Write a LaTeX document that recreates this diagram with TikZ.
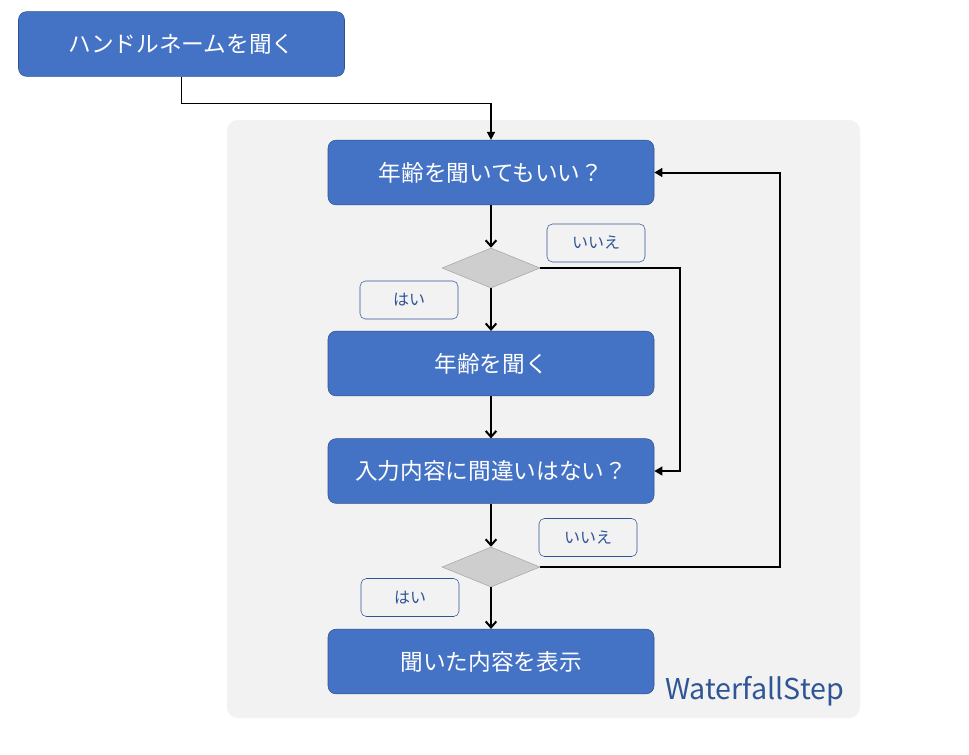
\documentclass[tikz,border=0pt]{standalone}
\usepackage{fontspec}
\setmainfont{Noto Sans CJK JP}
\usepackage{tikz}
\usetikzlibrary{arrows.meta,shapes.geometric}

\definecolor{boxblue}{HTML}{4472C4}
\definecolor{boxedge}{HTML}{2F528F}
\definecolor{labelblue}{HTML}{2F5597}
\definecolor{panel}{HTML}{F2F2F2}
\definecolor{judgefill}{HTML}{CFCECE}
\definecolor{judgeedge}{HTML}{A5A5A5}

\tikzset{
  stepbox/.style={draw=boxedge, fill=boxblue, rounded corners=6pt, text=white,
    minimum width=244.5pt, minimum height=48.5pt, inner sep=0pt,
    font=\fontsize{17}{20}\selectfont},
  judge/.style={diamond, draw=judgeedge, fill=judgefill, minimum width=73.5pt,
    minimum height=30pt, inner sep=0pt},
  answer/.style={draw=labelblue, fill=panel, rounded corners=4pt, text=labelblue,
    minimum width=73.5pt, minimum height=28.5pt, inner sep=0pt,
    font=\fontsize{12}{14}\selectfont},
  flow/.style={line width=1.5pt, -{Straight Barb[length=4.5pt,width=8pt]}},
  back/.style={line width=1.5pt, -{Triangle[length=6pt,width=6.5pt]}},
  entry/.style={line width=1.1pt, -{Triangle[length=6pt,width=6pt]}}
}

\begin{document}
\begin{tikzpicture}[x=0.75pt, y=-0.75pt]
\useasboundingbox (0, 0) rectangle (969, 754);
\fill[panel, rounded corners=8pt] (227, 120) rectangle (860, 718);

\node[stepbox] (hn) at (181.5, 44) {ハンドルネームを聞く};
\node[stepbox] (q1) at (491, 172.5) {年齢を聞いてもいい？};
\node[judge] (d1) at (491, 268) {};
\node[answer] (a1) at (596, 243) {いいえ};
\node[answer] (y1) at (409, 300) {はい};
\node[stepbox] (ask) at (491, 363.5) {年齢を聞く};
\node[stepbox] (chk) at (491, 471) {入力内容に間違いはない？};
\node[judge] (d2) at (491, 567) {};
\node[answer] (a2) at (588, 537.5) {いいえ};
\node[answer] (y2) at (410, 597.5) {はい};
\node[stepbox] (show) at (491, 661.5) {聞いた内容を表示};
\node[anchor=east, text=labelblue, font=\fontsize{21.5}{25}\selectfont] (wf) at (849, 691) {WaterfallStep};

\draw[entry] (hn.south) -- ++(0, 27) -| (q1.north);
\draw[flow] (q1.south) -- (d1.north);
\draw[flow] (d1.south) -- (ask.north);
\draw[back] (d1.east) -- ++(140, 0) |- (chk.east);
\draw[flow] (ask.south) -- (chk.north);
\draw[flow] (chk.south) -- (d2.north);
\draw[flow] (d2.south) -- (show.north);
\draw[back] (d2.east) -- ++(240, 0) |- (q1.east);
\end{tikzpicture}
\end{document}
